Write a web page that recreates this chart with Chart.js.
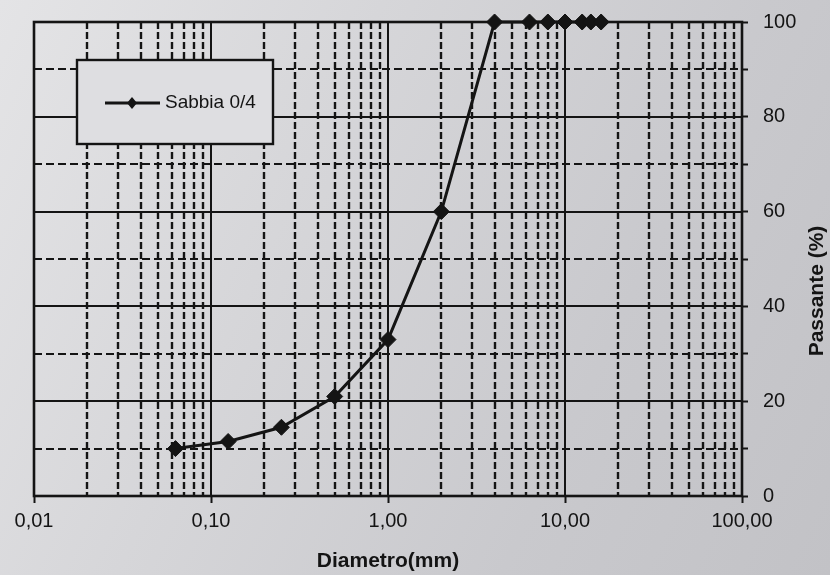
<!DOCTYPE html>
<html lang="it">
<head>
<meta charset="utf-8">
<title>Curva granulometrica - Sabbia 0/4</title>
<script src="https://cdn.jsdelivr.net/npm/chart.js@4.4.1/dist/chart.umd.min.js"></script>
<style>
    html, body {
        margin: 0;
        padding: 0;
        width: 830px;
        height: 575px;
        overflow: hidden;
        background: linear-gradient(115deg, #e4e4e6 0%, #d6d6d9 35%, #c9c9cd 70%, #c2c2c6 100%);
    }
    #grading {
        display: block;
    }
</style>
</head>
<body>
<canvas id="grading" width="830" height="575"></canvas>
<script>
// Sieve openings (mm) and cumulative passing (%)
const sieveSizes = [0.063, 0.125, 0.25, 0.5, 1, 2, 4, 6.3, 8, 10, 12.5, 14, 16];
const passing = [10, 11.5, 14.5, 21, 33, 60, 100, 100, 100, 100, 100, 100, 100];
const seriesName = "Sabbia 0/4";

// Axis ticks
const decades = [0.01, 0.1, 1, 10, 100];
const minorSteps = [2, 3, 4, 5, 6, 7, 8, 9];
const passingTicks = [0, 10, 20, 30, 40, 50, 60, 70, 80, 90, 100];

const INK = "#141414";
const FONT = "'Liberation Sans', Arial, sans-serif";

// Log-paper grid: solid decades, dashed sub-decades; solid every 20 %, dashed in between
const gridPaper = {
    id: "gridPaper",
    beforeDatasetsDraw(chart) {
        const { ctx, chartArea: a, scales } = chart;
        const x = scales.x;
        const y = scales.y;
        ctx.save();
        ctx.strokeStyle = INK;

        // vertical sub-decade lines
        ctx.lineWidth = 2.4;
        ctx.setLineDash([7, 3]);
        decades.slice(0, -1).forEach((d) => {
            minorSteps.forEach((m) => {
                const px = Math.round(x.getPixelForValue(d * m));
                ctx.beginPath();
                ctx.moveTo(px, a.top);
                ctx.lineTo(px, a.bottom);
                ctx.stroke();
            });
        });

        // horizontal dashed lines at odd tens
        ctx.lineWidth = 2;
        ctx.setLineDash([8, 4]);
        passingTicks.filter((v) => v % 20 !== 0).forEach((v) => {
            const py = Math.round(y.getPixelForValue(v));
            ctx.beginPath();
            ctx.moveTo(a.left, py);
            ctx.lineTo(a.right, py);
            ctx.stroke();
        });

        // solid lines
        ctx.setLineDash([]);
        ctx.lineWidth = 2;
        decades.forEach((d) => {
            const px = Math.round(x.getPixelForValue(d));
            ctx.beginPath();
            ctx.moveTo(px, a.top);
            ctx.lineTo(px, a.bottom);
            ctx.stroke();
        });
        passingTicks.filter((v) => v % 20 === 0).forEach((v) => {
            const py = Math.round(y.getPixelForValue(v));
            ctx.beginPath();
            ctx.moveTo(a.left, py);
            ctx.lineTo(a.right, py);
            ctx.stroke();
        });

        // frame
        ctx.lineWidth = 2.6;
        ctx.strokeRect(a.left, a.top, a.right - a.left, a.bottom - a.top);
        ctx.restore();
    },
};

// Boxed legend inside the plot + rotated right-hand title
const paperLegend = {
    id: "paperLegend",
    afterDatasetsDraw(chart) {
        const { ctx, chartArea: a } = chart;
        const bx = a.left + 43;
        const by = a.top + 38;
        const bw = 196;
        const bh = 84;
        ctx.save();

        ctx.fillStyle = "#dedee1";
        ctx.fillRect(bx, by, bw, bh);
        ctx.strokeStyle = INK;
        ctx.lineWidth = 2.4;
        ctx.strokeRect(bx, by, bw, bh);

        const ly = by + bh / 2 + 1;
        ctx.lineWidth = 3;
        ctx.beginPath();
        ctx.moveTo(bx + 28, ly);
        ctx.lineTo(bx + 83, ly);
        ctx.stroke();

        const cx = bx + 55;
        ctx.fillStyle = INK;
        ctx.beginPath();
        ctx.moveTo(cx, ly - 6);
        ctx.lineTo(cx + 5, ly);
        ctx.lineTo(cx, ly + 6);
        ctx.lineTo(cx - 5, ly);
        ctx.closePath();
        ctx.fill();

        ctx.font = "19px " + FONT;
        ctx.textBaseline = "middle";
        ctx.textAlign = "left";
        ctx.fillText(seriesName, bx + 88, ly);
        ctx.restore();
    },
    afterDraw(chart) {
        const { ctx, chartArea: a } = chart;
        ctx.save();
        ctx.translate(chart.width - 13, (a.top + a.bottom) / 2 + 32);
        ctx.rotate(-Math.PI / 2);
        ctx.font = "bold 21px " + FONT;
        ctx.fillStyle = INK;
        ctx.textAlign = "center";
        ctx.textBaseline = "middle";
        ctx.fillText("Passante (%)", 0, 0);
        ctx.restore();
    },
};

const ctxGrading = document.getElementById("grading");
new Chart(ctxGrading, {
    type: "line",
    data: {
        datasets: [
            {
                label: seriesName,
                data: sieveSizes.map((d, i) => ({ x: d, y: passing[i] })),
                borderColor: INK,
                backgroundColor: INK,
                borderWidth: 3,
                tension: 0,
                pointStyle: "rectRot",
                pointRadius: 8,
                pointBorderWidth: 1,
                pointBackgroundColor: INK,
                pointBorderColor: INK,
                clip: false,
            },
        ],
    },
    options: {
        responsive: false,
        animation: false,
        layout: { padding: { left: 34, top: 22, right: 0, bottom: 0 } },
        plugins: {
            legend: { display: false },
            tooltip: { enabled: false },
        },
        scales: {
            x: {
                type: "logarithmic",
                position: "bottom",
                min: 0.01,
                max: 100,
                afterBuildTicks: (scale) => {
                    scale.ticks = decades.map((v) => ({ value: v }));
                },
                afterFit: (scale) => {
                    scale.height = 79;
                },
                ticks: {
                    autoSkip: false,
                    maxRotation: 0,
                    padding: 6,
                    color: INK,
                    font: { family: FONT, size: 20 },
                    callback: (v) => Number(v).toFixed(2).replace(".", ","),
                },
                grid: {
                    drawOnChartArea: false,
                    drawTicks: true,
                    tickLength: 7,
                    tickWidth: 2,
                    tickColor: INK,
                },
                border: { display: false },
                title: {
                    display: true,
                    text: "Diametro(mm)",
                    color: INK,
                    font: { family: FONT, size: 21, weight: "bold" },
                    padding: { top: 0, bottom: 1 },
                },
            },
            y: {
                type: "linear",
                position: "right",
                min: 0,
                max: 100,
                afterBuildTicks: (scale) => {
                    scale.ticks = passingTicks.map((v) => ({ value: v }));
                },
                afterFit: (scale) => {
                    scale.width = 88;
                    scale.paddingTop = 0;
                    scale.paddingBottom = 0;
                },
                ticks: {
                    padding: 15,
                    color: INK,
                    font: { family: FONT, size: 20 },
                    callback: (v) => (v % 20 === 0 ? String(v) : ""),
                },
                grid: {
                    drawOnChartArea: false,
                    drawTicks: true,
                    tickLength: 6,
                    tickWidth: 2,
                    tickColor: INK,
                },
                border: { display: false },
            },
        },
    },
    plugins: [gridPaper, paperLegend],
});
</script>
</body>
</html>
